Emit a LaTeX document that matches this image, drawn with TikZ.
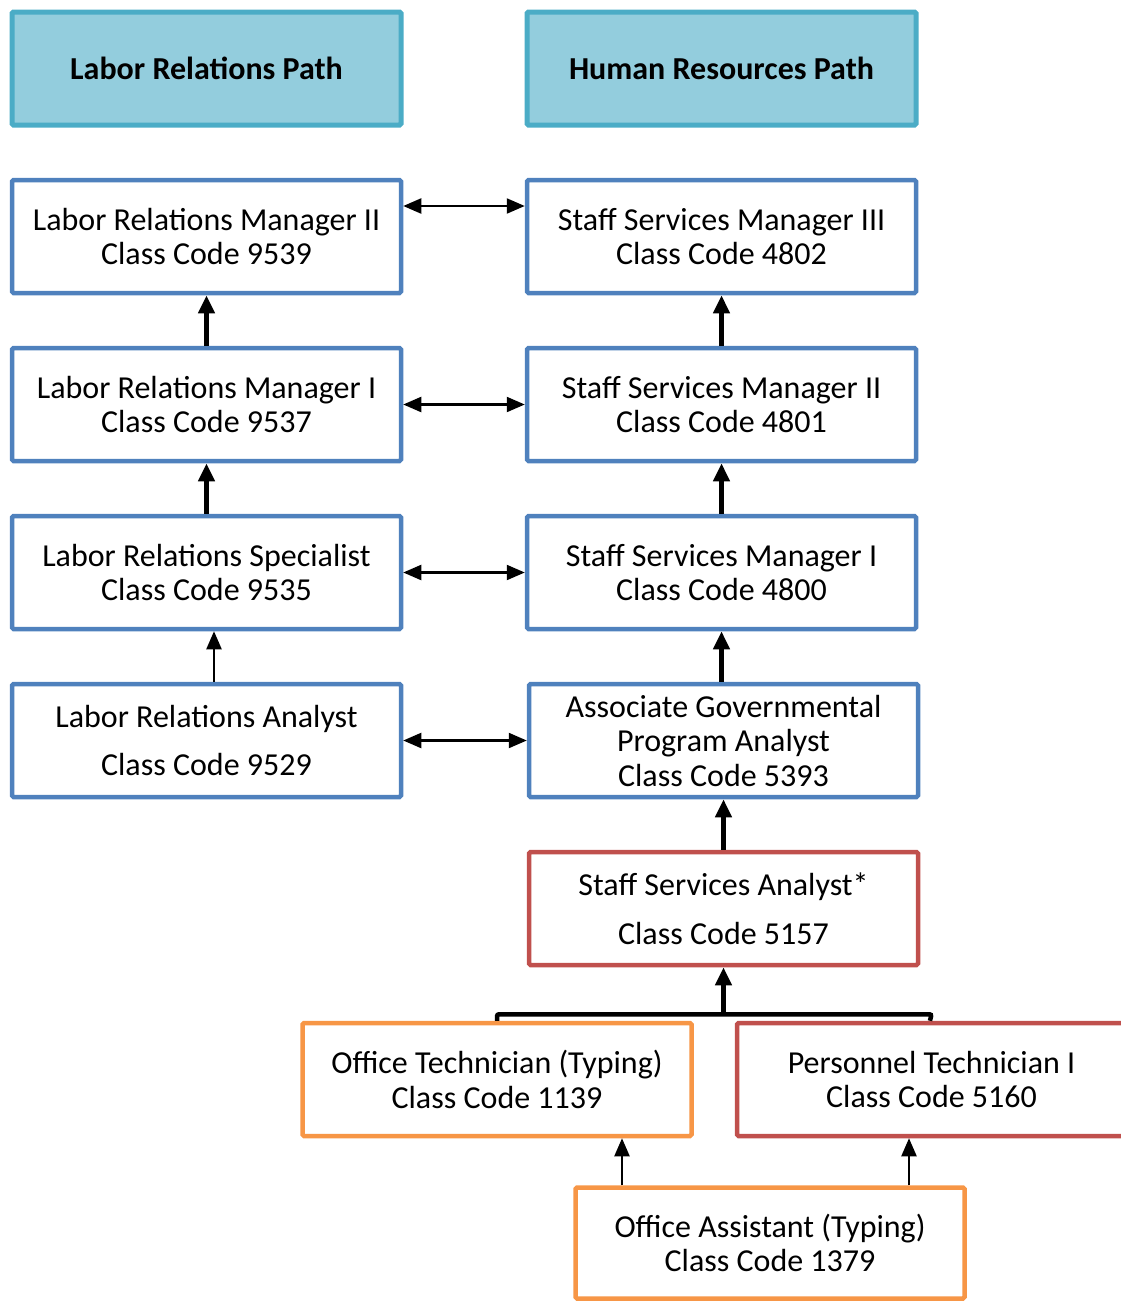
\documentclass[tikz,border=0pt]{standalone}
\usepackage{fontspec}
\setmainfont{Carlito}
\usetikzlibrary{arrows.meta}
\definecolor{hdrfill}{HTML}{93CDDD}
\definecolor{hdrline}{HTML}{4BACC6}
\definecolor{bluel}{HTML}{4F81BD}
\definecolor{redl}{HTML}{C0504D}
\definecolor{orgl}{HTML}{F79646}
\tikzset{
  box/.style={draw=bluel, fill=white, line width=4.5pt, minimum width=389pt, minimum height=113pt,
    align=center, inner sep=0pt, font=\fontsize{32}{34.5}\selectfont, rounded corners=1.5pt},
  hdr/.style={box, draw=hdrline, fill=hdrfill, line width=5pt, font=\fontsize{32}{34.5}\selectfont\bfseries},
  redbox/.style={box, draw=redl},
  orgbox/.style={box, draw=orgl},
  harrow/.style={{Triangle[length=18pt,width=15pt]}-{Triangle[length=18pt,width=15pt]}, line width=2.2pt},
  thinup/.style={-{Triangle[length=18pt,width=15pt]}, line width=2.2pt},
  thickup/.style={-{Triangle[length=18pt,width=16pt]}, line width=4.5pt},
}
\begin{document}
\begin{tikzpicture}[x=1pt,y=-1pt]
\useasboundingbox (0,0) rectangle (1121,1301);
\clip (0,0) rectangle (1121,1301);

\node[hdr] (h1) at (206.5,68.5) {Labor Relations Path};
\node[hdr] (h2) at (721.5,68.5) {Human Resources Path};

\node[box] (lr3) at (206.5,236.5) {Labor Relations Manager II\\Class Code 9539};
\node[box] (hr3) at (721.5,236.5) {Staff Services Manager III\\Class Code 4802};
\node[box] (lr2) at (206.5,404.5) {Labor Relations Manager I\\Class Code 9537};
\node[box] (hr2) at (721.5,404.5) {Staff Services Manager II\\Class Code 4801};
\node[box] (lr1) at (206.5,572.5) {Labor Relations Specialist\\Class Code 9535};
\node[box] (hr1) at (721.5,572.5) {Staff Services Manager I\\Class Code 4800};
\node[box] (lra) at (206.5,740.5) {Labor Relations Analyst\\[14pt]Class Code 9529};
\node[box] (agpa) at (723.5,740.5) {Associate Governmental\\Program Analyst\\Class Code 5393};
\node[redbox] (ssa) at (723.5,908.5) {Staff Services Analyst*\\[14pt]Class Code 5157};
\node[orgbox] (ot) at (497,1079.5) {Office Technician (Typing)\\Class Code 1139};
\node[redbox] (pt) at (931.5,1079.5) {Personnel Technician I\\Class Code 5160};
\node[orgbox, minimum height=111pt] (oa) at (770,1243) {Office Assistant (Typing)\\Class Code 1379};

% horizontal links
\draw[harrow] ([yshift=30.5pt]lr3.east) -- ([yshift=30.5pt]hr3.west);
\draw[harrow] (lr2.east) -- (hr2.west);
\draw[harrow] (lr1.east) -- (hr1.west);
\draw[harrow] (lra.east) -- (agpa.west);

% labor relations column
\draw[thickup] (lr2.north) -- (lr3.south);
\draw[thickup] (lr1.north) -- (lr2.south);
\draw[thinup] ([xshift=7.5pt]lra.north) -- ([xshift=7.5pt]lr1.south);

% human resources column
\draw[thickup] (hr2.north) -- (hr3.south);
\draw[thickup] (hr1.north) -- (hr2.south);
\draw[thickup] (hr1.south |- agpa.north) -- (hr1.south);
\draw[thickup] (ssa.north) -- (agpa.south);

% bracket into SSA
\coordinate (bj) at ([yshift=-47pt]ssa.south);
\draw[line width=4.5pt, rounded corners=2pt] (ot.north) -- (ot.north |- bj) -- (pt.north |- bj) -- ([xshift=-1.5pt]pt.north);
\draw[thickup] (bj) -- (ssa.south);

% office assistant links
\draw[thinup] ([xshift=-148pt]oa.north) -- ([xshift=-148pt]oa.north |- ot.south);
\draw[thinup] ([xshift=139pt]oa.north) -- ([xshift=139pt]oa.north |- pt.south);
\end{tikzpicture}
\end{document}
